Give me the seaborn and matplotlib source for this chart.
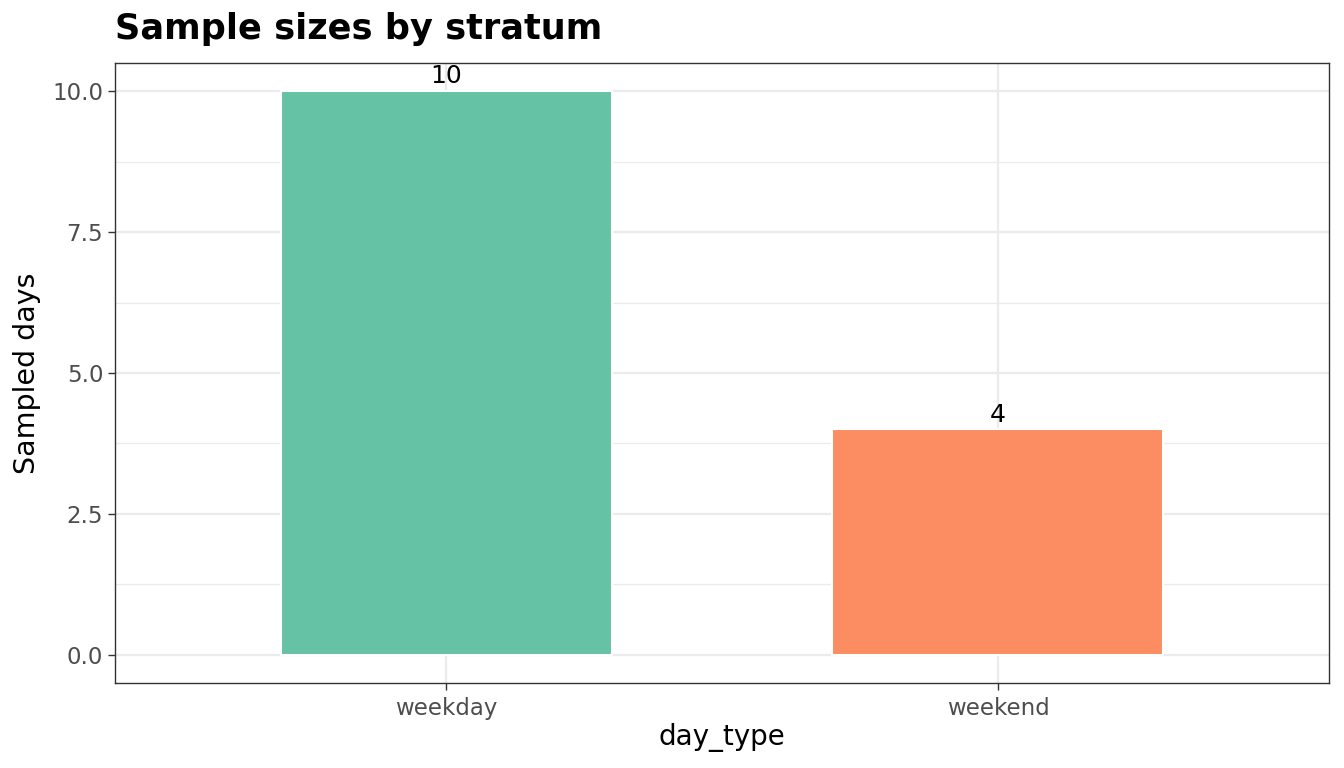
import pandas as pd
import seaborn as sns
import matplotlib.pyplot as plt
from matplotlib.ticker import MultipleLocator

# data
day_types = ["weekday", "weekend"]
sampled_days = [10, 4]
bar_colors = ["#66C2A5", "#FC8D62"]

sns.set_style("white")
plt.rcParams["font.family"] = ["DejaVu Sans"]

df = pd.DataFrame({"day_type": day_types, "n": sampled_days})

fig = plt.figure(figsize=(13.44, 7.68), dpi=100)
ax = fig.add_axes([115 / 1344, 1 - 683 / 768, (1329 - 115) / 1344, (683 - 63) / 768])

sns.barplot(data=df, x="day_type", y="n", hue="day_type", palette=bar_colors,
            width=0.6, edgecolor="white", linewidth=1.5, legend=False, ax=ax,
            saturation=1)

# grid after barplot (seaborn switches the x grid off)
ax.set_axisbelow(True)
ax.yaxis.set_major_locator(MultipleLocator(2.5))
ax.yaxis.set_minor_locator(MultipleLocator(1.25))
ax.grid(which="major", axis="both", color="#EBEBEB", linewidth=1.6)
ax.grid(which="minor", axis="y", color="#EBEBEB", linewidth=0.9)

for i, v in enumerate(sampled_days):
    ax.text(i, v + 0.05, str(v), ha="center", va="bottom", fontsize=18, color="black")

ax.set_xlim(-0.6, 1.6)
ax.set_ylim(-0.5, 10.5)
ax.yaxis.set_major_formatter(plt.FuncFormatter(lambda v, p: f"{v:.1f}"))

for s in ax.spines.values():
    s.set_color("#333333")
    s.set_linewidth(1.0)

ax.tick_params(axis="both", which="major", length=5, width=1, color="#333333",
               labelsize=16.5, labelcolor="#4D4D4D", bottom=True, left=True)
ax.tick_params(axis="x", which="major", pad=5)
ax.tick_params(axis="y", which="minor", length=0)

ax.set_xlabel("day_type", fontsize=20, labelpad=2, color="black")
ax.set_ylabel("Sampled days", fontsize=20.5, labelpad=8, color="black")
ax.set_title("Sample sizes by stratum", fontsize=25.3, fontweight="bold", loc="left",
             pad=17, x=0, color="black")

fig.savefig("out.png", dpi=100)
